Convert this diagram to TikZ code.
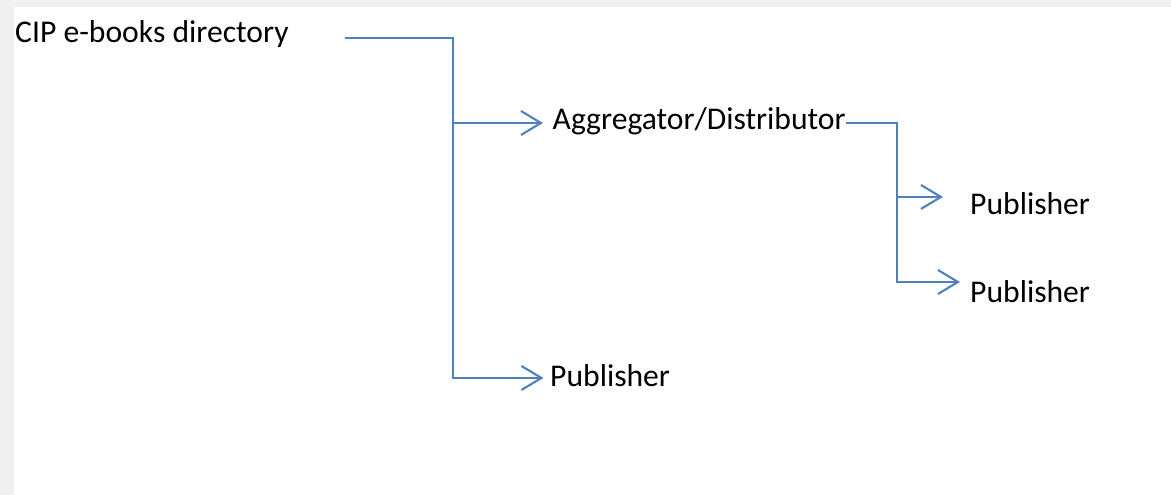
\documentclass[tikz,border=0pt]{standalone}
\usepackage{fontspec}
\setmainfont{Carlito}
\usetikzlibrary{arrows.meta}
\definecolor{linkblue}{HTML}{4F81BD}
\definecolor{framegray}{HTML}{F0F0F0}
\begin{document}
\begin{tikzpicture}
  [
    every node/.style = {font = \fontsize{9pt}{11pt}\selectfont, inner sep = 0pt, anchor = base west},
    link/.style = {draw = linkblue, line width = 0.6pt},
    tip/.style = {-{Straight Barb[length = 2mm, width = 2.4mm]}}
  ]
    \fill [framegray] (0,0) rectangle (11.71,4.95);
    \fill [white] (0.14,0) rectangle (11.71,4.88);
    \useasboundingbox (0,0) rectangle (11.71,4.95);
    \node (root) at (0.145,4.52) {CIP e-books directory};
    \node (agg) at (5.52,3.65) {Aggregator/Distributor};
    \node (pubA) at (5.495,1.08) {Publisher};
    \node (pubB) at (9.695,2.80) {Publisher};
    \node (pubC) at (9.695,1.92) {Publisher};
    \coordinate (rootout) at (3.45,4.57);
    \coordinate (j1) at (4.53,4.57);
    \coordinate (aggin) at ([xshift = -0.09cm, yshift = 0.07cm]agg.base west);
    \coordinate (aggout) at ([yshift = 0.07cm]agg.base east);
    \coordinate (j2) at ([xshift = 0.51cm]aggout);
    \coordinate (pubAin) at ([xshift = -0.06cm, yshift = 0.09cm]pubA.base west);
    \coordinate (pubBin) at ([xshift = -0.265cm, yshift = 0.18cm]pubB.base west);
    \coordinate (pubCin) at ([xshift = -0.095cm, yshift = 0.21cm]pubC.base west);
    \draw [link, tip] (rootout) -- (j1) |- (pubAin);
    \draw [link, tip] (j1 |- aggin) -- (aggin);
    \draw [link, tip] (aggout) -- (j2) |- (pubCin);
    \draw [link, tip] (j2 |- pubBin) -- (pubBin);
  \end{tikzpicture}
\end{document}
